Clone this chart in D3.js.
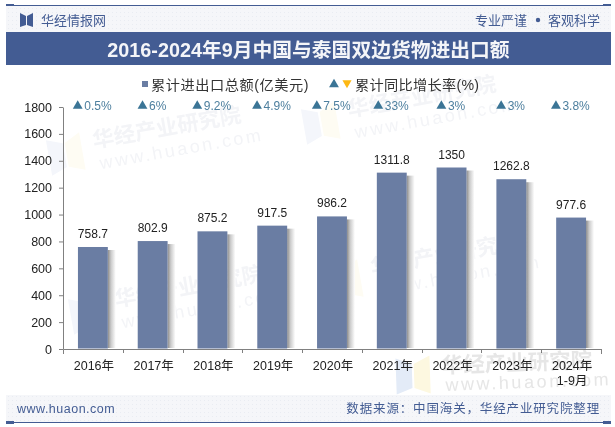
<!DOCTYPE html>
<html>
<head>
<meta charset="utf-8">
<title>中国与泰国双边货物进出口额</title>
<script src="https://cdn.jsdelivr.net/npm/d3@7"></script>
<style>
	html, body { margin: 0; padding: 0; background: #fff; }
	svg { display: block; }
	text { font-family: "Liberation Sans", "Noto Sans CJK SC", sans-serif; }
</style>
</head>
<body>
<svg id="tu" width="615" height="427"></svg>
<script>
	var categories = ["2016年", "2017年", "2018年", "2019年", "2020年", "2021年", "2022年", "2023年", "2024年|1-9月"];
	var totals = [758.7, 802.9, 875.2, 917.5, 986.2, 1311.8, 1350, 1262.8, 977.6];
	var growth = ["0.5%", "6%", "9.2%", "4.9%", "7.5%", "33%", "3%", "3%", "3.8%"];
	var yTicks = [0, 200, 400, 600, 800, 1000, 1200, 1400, 1600, 1800];

	var biru = "#435c93", batang = "#6a7da3", panah = "#3b7596", kuning = "#fdb813", abu = "#808080";
	var cjk = '"Noto Sans CJK SC", sans-serif';

	var svg = d3.select("#tu");
	var defs = svg.append("defs");

	var bayang = defs.append("linearGradient").attr("id", "bayang");
	bayang.append("stop").attr("offset", "0").attr("stop-color", "#8c8c8c");
	bayang.append("stop").attr("offset", "0.4").attr("stop-color", "#cbcbcb");
	bayang.append("stop").attr("offset", "1").attr("stop-color", "#fff");

	var titik = defs.append("pattern").attr("id", "titik")
		.attr("width", 4).attr("height", 4).attr("patternUnits", "userSpaceOnUse");
	titik.append("rect").attr("width", 4).attr("height", 4).attr("fill", "#f5f6f9");
	titik.append("rect").attr("width", 1).attr("height", 1).attr("fill", "#e9ecf2");

	// watermark: logo plus two lines of text
	function cap(parent, px, py, sudut, warna, logoB, logoK, jarak) {
		var g = parent.append("g").attr("transform", "translate(" + px + "," + py + ") rotate(" + sudut + ")");
		g.append("path").attr("d", "M-46 -16L-30 -10V14L-46 20Z").attr("fill", logoB);
		g.append("path").attr("d", "M-12 -18L-28 -10V14L-12 20Z").attr("fill", logoK);
		g.append("text").attr("y", 0).attr("font-family", cjk).attr("font-size", 21.5).attr("font-weight", 700)
			.attr("fill", warna).text("华经产业研究院");
		g.append("text").attr("x", 3).attr("y", jarak).attr("font-size", 18).attr("letter-spacing", 2.6)
			.attr("fill", warna).text("www.huaon.com");
	}

	var wm = svg.append("g").attr("class", "watermark");
	cap(wm, 94, 148, -10, "#f3f4f7", "#f4f6fb", "#fefcf3", 22);
	cap(wm, 349, 117, -10, "#f3f4f7", "#f4f6fb", "#fefcf3", 22);
	cap(wm, 116, 307, -10, "#f3f4f7", "#f4f6fb", "#fefcf3", 22);
	cap(wm, 372, 275, -10, "#f3f4f7", "#f4f6fb", "#fefcf3", 22);

	// header and footer
	svg.append("rect").attr("x", 6).attr("y", 5).attr("width", 600).attr("height", 1).attr("fill", biru);
	svg.append("rect").attr("x", 6).attr("y", 4).attr("width", 8).attr("height", 3).attr("fill", biru);
	svg.append("rect").attr("x", 603).attr("y", 4).attr("width", 8).attr("height", 3).attr("fill", biru);
	svg.append("rect").attr("x", 6).attr("y", 6).attr("width", 605).attr("height", 26).attr("fill", "url(#titik)");
	svg.append("rect").attr("x", 6).attr("y", 32).attr("width", 605).attr("height", 33).attr("fill", biru);

	svg.append("path").attr("fill", biru).attr("d", "M20 13L26 16V25L20 27Z");
	svg.append("path").attr("fill", biru).attr("d", "M33 13L27 16V25L33 27Z");
	svg.append("text").attr("x", 41).attr("y", 25).attr("font-family", cjk).attr("font-size", 13)
		.attr("fill", biru).text("华经情报网");
	svg.append("text").attr("x", 527).attr("y", 25).attr("text-anchor", "end").attr("font-family", cjk)
		.attr("font-size", 13).attr("fill", biru).text("专业严谨");
	svg.append("circle").attr("cx", 538).attr("cy", 20).attr("r", 2.2).attr("fill", biru);
	svg.append("text").attr("x", 600).attr("y", 25).attr("text-anchor", "end").attr("font-family", cjk)
		.attr("font-size", 13).attr("fill", biru).text("客观科学");
	svg.append("text").attr("x", 308.5).attr("y", 57).attr("text-anchor", "middle")
		.attr("font-family", '"Liberation Serif", "Noto Sans CJK SC", serif')
		.attr("font-size", 19.8).attr("font-weight", 700).attr("fill", "#f4f5f8")
		.text("2016-2024年9月中国与泰国双边货物进出口额");

	svg.append("rect").attr("x", 6).attr("y", 395).attr("width", 605).attr("height", 27).attr("fill", "url(#titik)");
	svg.append("rect").attr("x", 6).attr("y", 422).attr("width", 605).attr("height", 1).attr("fill", biru);
	svg.append("rect").attr("x", 6).attr("y", 421).attr("width", 8).attr("height", 3).attr("fill", biru);
	svg.append("rect").attr("x", 603).attr("y", 421).attr("width", 8).attr("height", 3).attr("fill", biru);
	svg.append("text").attr("x", 17).attr("y", 413).attr("font-size", 12.5)
		.attr("letter-spacing", 0.5).attr("fill", biru).text("www.huaon.com");
	svg.append("text").attr("x", 600).attr("y", 413).attr("text-anchor", "end").attr("font-family", cjk)
		.attr("font-size", 12.5).attr("letter-spacing", 0.85).attr("fill", biru).text("数据来源：中国海关，华经产业研究院整理");

	// legend
	var lg = svg.append("g");
	lg.append("rect").attr("x", 142).attr("y", 81).attr("width", 6).attr("height", 6).attr("fill", batang);
	lg.append("text").attr("x", 151).attr("y", 90).attr("font-family", cjk).attr("font-size", 14.2)
		.attr("letter-spacing", 0.55).attr("fill", "#333").text("累计进出口总额(亿美元)");
	lg.append("path").attr("d", d3.symbol(d3.symbolTriangle, 42)()).attr("fill", panah)
		.attr("transform", "translate(334,84.5)");
	lg.append("path").attr("d", d3.symbol(d3.symbolTriangle, 36)()).attr("fill", kuning)
		.attr("transform", "translate(347,83) rotate(180)");
	lg.append("text").attr("x", 355).attr("y", 90).attr("font-family", cjk).attr("font-size", 14.2)
		.attr("letter-spacing", 0.3).attr("fill", "#333").text("累计同比增长率(%)");

	// scales
	var x = d3.scaleBand().domain(categories).range([63, 601]).paddingInner(0.5).paddingOuter(0.25);
	var xGaris = d3.scaleBand().domain(categories).range([63, 601]);
	var y = d3.scaleLinear().domain([0, 1800]).range([349, 107]);

	var sumbuY = d3.axisLeft(y).tickValues(yTicks).tickFormat(d3.format("d")).tickSize(4).tickPadding(7).tickSizeOuter(0);
	var gy = svg.append("g").attr("transform", "translate(63,0)").call(sumbuY);
	gy.selectAll("text").attr("font-size", 12.5).attr("fill", "#222");
	gy.selectAll("line").attr("stroke", abu);
	gy.select(".domain").attr("stroke", abu);

	var sumbuX = d3.axisBottom(xGaris).tickValues([]).tickSizeOuter(5);
	var gx = svg.append("g").attr("transform", "translate(0,349)").call(sumbuX);
	gx.select(".domain").attr("stroke", abu);
	gx.selectAll(".pemisah").data(categories).enter().append("line").attr("class", "pemisah")
		.attr("x1", function (d) { return Math.round(xGaris(d) + xGaris.bandwidth()) + 0.5; })
		.attr("x2", function (d) { return Math.round(xGaris(d) + xGaris.bandwidth()) + 0.5; })
		.attr("y1", 0).attr("y2", 4).attr("stroke", abu);

	var label = svg.append("g").selectAll("text").data(categories).enter().append("text")
		.attr("text-anchor", "middle")
		.attr("font-size", 12.5).attr("fill", "#222")
		.attr("transform", function (d) { return "translate(" + (xGaris(d) + xGaris.bandwidth() / 2 + 1) + ",370)"; });
	label.each(function (d) {
		var el = d3.select(this);
		d.split("|").forEach(function (s, i) {
			el.append("tspan").attr("x", 0).attr("dy", i ? 15 : 0).text(s);
		});
	});

	// bars
	var data = d3.zip(categories, totals, growth);
	svg.append("g").selectAll("rect").data(data).enter().append("rect")
		.attr("x", function (d) { return x(d[0]) + x.bandwidth(); })
		.attr("y", function (d) { return y(d[1]) + 3; })
		.attr("width", 8)
		.attr("height", function (d) { return 348 - y(d[1]) - 3; })
		.attr("fill", "url(#bayang)");
	svg.append("g").selectAll("rect").data(data).enter().append("rect")
		.attr("x", function (d) { return x(d[0]); })
		.attr("y", function (d) { return y(d[1]); })
		.attr("width", x.bandwidth())
		.attr("height", function (d) { return 348.5 - y(d[1]); })
		.attr("fill", batang);
	svg.append("g").selectAll("text").data(data).enter().append("text")
		.attr("x", function (d) { return x(d[0]) + x.bandwidth() / 2; })
		.attr("y", function (d) { return y(d[1]) - 9; })
		.attr("text-anchor", "middle").attr("font-size", 12).attr("fill", "#222")
		.text(function (d) { return d[1]; });

	// growth row
	var baris = svg.append("g").selectAll("g").data(data).enter().append("g")
		.attr("transform", function (d) { return "translate(" + (x(d[0]) + x.bandwidth() / 2) + ",110)"; });
	baris.append("text").attr("class", "nilai").attr("x", 5).attr("text-anchor", "middle")
		.attr("font-size", 12).attr("fill", "#4d7f9e").text(function (d) { return d[2]; });
	baris.append("path").attr("d", d3.symbol(d3.symbolTriangle, 42)()).attr("fill", panah)
		.attr("transform", function () {
			var w = this.parentNode.querySelector(".nilai").getComputedTextLength();
			return "translate(" + (5 - w / 2 - 6.5) + ",-4)";
		});

	// last watermark sits over the year labels, multiply keeps them readable
	cap(svg.append("g").style("mix-blend-mode", "multiply"), 442, 373, -2, "#e6e6e6", "#e3ebf7", "#fdf8e0", 18);
</script>
</body>
</html>
